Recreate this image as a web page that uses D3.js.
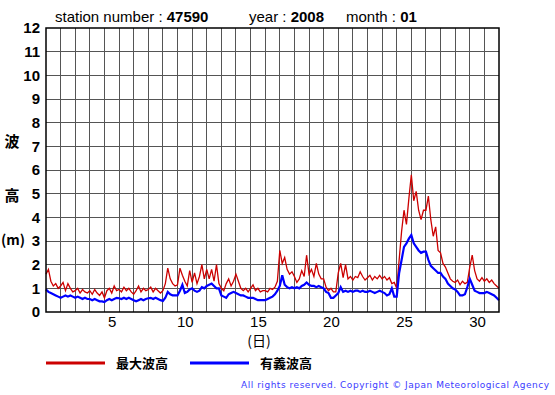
<!DOCTYPE html>
<html>
<head>
<meta charset="utf-8">
<script src="https://cdn.jsdelivr.net/npm/d3@7"></script>
<style>
  body { margin: 0; background: #fff; }
  svg { display: block; }
</style>
</head>
<body>
<svg id="chart"></svg>
<script>
// Data: 6 samples per day (every 4 hours), Jan 1 00:00 .. Feb 1 00:00
const samplesPerDay = 6;

// max wave height (m), one row per day
const maxWave = [
  1.6, 1.8, 1.3, 1.1, 1.2, 1.0,
  1.1, 1.25, 0.9, 1.2, 1.0, 0.85,
  0.9, 1.0, 0.8, 0.95, 0.85, 0.8,
  0.9, 0.75, 0.95, 0.8, 0.7, 0.85,
  0.6, 0.9, 1.0, 0.8, 1.1, 0.9,
  0.95, 0.85, 1.05, 0.9, 1.0, 0.85,
  0.75, 0.9, 1.1, 0.85, 1.0, 0.9,
  0.95, 1.05, 0.85, 1.0, 0.9, 0.8,
  0.9, 1.2, 1.85, 1.4, 1.2, 1.1,
  1.15, 1.85, 1.55, 1.3, 1.1, 1.75,
  1.25, 1.65, 1.2, 1.5, 2.0, 1.4,
  1.8, 1.4, 1.8, 1.3, 2.0, 1.2,
  1.0, 0.9, 1.2, 1.4, 1.1, 1.3,
  1.6, 1.3, 1.0, 0.9, 1.0, 0.85,
  1.0, 1.15, 0.9, 1.0, 0.85, 0.9,
  0.9, 0.85, 1.0, 0.95, 1.05, 1.3,
  2.6, 2.05, 2.3, 1.8, 1.6, 1.7,
  1.5, 1.25, 1.4, 1.75, 1.5, 2.4,
  1.6, 1.8, 1.5, 2.05, 1.6, 1.4,
  1.4, 1.05, 0.9, 1.0, 0.85, 0.85,
  1.65, 2.05, 1.45, 2.0, 1.4, 1.5,
  1.35, 1.5, 1.45, 1.7, 1.5, 1.35,
  1.45, 1.55, 1.35, 1.5, 1.4, 1.55,
  1.4, 1.5, 1.35, 1.45, 1.2, 1.25,
  1.0, 2.2, 3.4, 4.3, 3.7, 4.8,
  5.8, 4.7, 5.1, 4.3, 3.9, 4.3,
  4.3, 4.9, 3.9, 3.2, 3.6, 2.6,
  2.5, 2.05, 1.9, 1.65, 1.4, 1.3,
  1.25, 1.35, 1.15, 1.3, 1.2, 1.25,
  1.9, 2.4, 1.75, 1.4, 1.3, 1.45,
  1.3, 1.4, 1.25, 1.35, 1.2, 1.1,
  1.0
];

// significant wave height (m)
const sigWave = [
  0.95, 0.85, 0.8, 0.75, 0.7, 0.65,
  0.6, 0.65, 0.7, 0.65, 0.7, 0.65,
  0.6, 0.65, 0.6, 0.55, 0.6, 0.55,
  0.55, 0.5, 0.55, 0.5, 0.45, 0.45,
  0.42, 0.5, 0.55, 0.5, 0.55, 0.6,
  0.58, 0.55, 0.6, 0.55, 0.6, 0.55,
  0.5, 0.45, 0.5, 0.55, 0.5, 0.55,
  0.58, 0.6, 0.55, 0.6, 0.55, 0.5,
  0.47, 0.6, 0.85, 0.75, 0.7, 0.7,
  0.7, 0.9, 1.15, 0.8, 0.85, 0.95,
  1.0, 0.9, 0.85, 0.9, 1.05, 1.0,
  1.1, 1.15, 1.2, 1.1, 1.0, 1.0,
  0.7, 0.65, 0.6, 0.75, 0.8, 0.85,
  0.8, 0.75, 0.7, 0.7, 0.65, 0.6,
  0.6, 0.6, 0.55, 0.5, 0.5, 0.5,
  0.5, 0.55, 0.6, 0.65, 0.75, 0.9,
  1.1, 1.55, 1.15, 1.05, 1.0, 1.05,
  1.0, 1.05, 1.0, 1.1, 1.15, 1.25,
  1.15, 1.1, 1.1, 1.05, 1.1, 1.05,
  1.0, 0.85, 0.8, 0.6, 0.6, 0.7,
  0.8, 1.05, 0.85, 0.9, 0.85, 0.9,
  0.85, 0.9, 0.9, 0.85, 0.9, 0.85,
  0.85, 0.9, 0.85, 0.8, 0.85, 0.9,
  0.85, 0.8, 0.7, 0.75, 1.0, 0.65,
  0.65, 1.65, 2.2, 2.75, 2.9, 3.1,
  3.25, 2.9, 2.75, 2.6, 2.5, 2.55,
  2.55, 2.2, 1.95, 1.85, 1.75, 1.65,
  1.65, 1.5, 1.4, 1.2, 1.1, 1.0,
  0.95, 0.85, 0.7, 0.7, 0.75, 1.05,
  1.4, 1.15, 0.9, 0.85, 0.8, 0.8,
  0.8, 0.85, 0.8, 0.75, 0.7, 0.6,
  0.5
];

const dayLabels = [5, 10, 15, 20, 25, 30];
const yTicks = [0, 1, 2, 3, 4, 5, 6, 7, 8, 9, 10, 11, 12];
const legendItems = [
  { name: "最大波高", color: "#cc0000" },
  { name: "有義波高", color: "#0000ff" }
];

const svgWidth = 555, svgHeight = 395;
const plotLeft = 46, plotRight = 499, plotTop = 28, plotBottom = 312;

const svg = d3.select("#chart")
  .attr("width", svgWidth)
  .attr("height", svgHeight)
  .style("font-family", "'Liberation Sans', Arial, sans-serif");

const x = d3.scaleLinear().domain([0, 31]).range([plotLeft, plotRight]);
const y = d3.scaleLinear().domain([0, 12]).range([plotBottom, plotTop]);

// grid: one vertical line per day, one horizontal per metre
svg.append("g")
  .selectAll("line")
  .data(d3.range(1, 31))
  .join("line")
  .attr("x1", d => x(d)).attr("x2", d => x(d))
  .attr("y1", plotTop).attr("y2", plotBottom)
  .attr("stroke", "#555").attr("stroke-width", 1)
  .attr("shape-rendering", "crispEdges");

svg.append("g")
  .selectAll("line")
  .data(yTicks.slice(1, -1))
  .join("line")
  .attr("x1", plotLeft).attr("x2", plotRight)
  .attr("y1", d => y(d)).attr("y2", d => y(d))
  .attr("stroke", "#555").attr("stroke-width", 1)
  .attr("shape-rendering", "crispEdges");

// lines
const line = d3.line()
  .x((d, i) => x(i / samplesPerDay))
  .y(d => y(d));

svg.append("path")
  .datum(maxWave)
  .attr("fill", "none")
  .attr("stroke", legendItems[0].color)
  .attr("stroke-width", 1.3)
  .attr("d", line);

svg.append("path")
  .datum(sigWave)
  .attr("fill", "none")
  .attr("stroke", legendItems[1].color)
  .attr("stroke-width", 2.2)
  .attr("d", line);

// frame
svg.append("rect")
  .attr("x", plotLeft).attr("y", plotTop)
  .attr("width", plotRight - plotLeft).attr("height", plotBottom - plotTop)
  .attr("fill", "none").attr("stroke", "#000").attr("stroke-width", 1.5);

// y axis labels
const yAxis = svg.append("g")
  .attr("transform", `translate(${plotLeft - 4},0)`)
  .call(d3.axisLeft(y).tickValues(yTicks).tickSize(0).tickPadding(2));
yAxis.select(".domain").remove();
yAxis.selectAll("text")
  .style("font-size", "15px")
  .style("font-weight", "bold")
  .attr("fill", "#000");

// x axis labels, centered in the middle of each day
const xAxis = svg.append("g")
  .attr("transform", `translate(0,${plotBottom + 2})`)
  .call(d3.axisBottom(x)
    .tickValues(dayLabels.map(d => d - 0.5))
    .tickFormat(d => d + 0.5)
    .tickSize(0).tickPadding(2));
xAxis.select(".domain").remove();
xAxis.selectAll("text")
  .style("font-size", "15px")
  .attr("fill", "#000");

// title
const title = svg.append("text")
  .attr("x", 55).attr("y", 22)
  .style("font-size", "15px");
title.append("tspan").text("station number : ");
title.append("tspan").style("font-weight", "bold").text("47590");
title.append("tspan").attr("x", 249).text("year : ");
title.append("tspan").style("font-weight", "bold").text("2008");
title.append("tspan").attr("x", 346).text("month : ");
title.append("tspan").style("font-weight", "bold").text("01");

// y axis title
const cjk = "'Noto Sans CJK JP', sans-serif";
svg.append("text").attr("x", 12).attr("y", 147)
  .attr("text-anchor", "middle")
  .style("font-family", cjk).style("font-size", "15px").style("font-weight", "bold")
  .text("波");
svg.append("text").attr("x", 12).attr("y", 201)
  .attr("text-anchor", "middle")
  .style("font-family", cjk).style("font-size", "15px").style("font-weight", "bold")
  .text("高");
svg.append("text").attr("x", 13).attr("y", 245)
  .attr("text-anchor", "middle")
  .style("font-family", cjk).style("font-size", "14px").style("font-weight", "bold")
  .text("(m)");

// x axis title
svg.append("text").attr("x", 259).attr("y", 346)
  .attr("text-anchor", "middle")
  .style("font-family", cjk).style("font-size", "14px")
  .text("(日)");

// legend
const legend = svg.append("g");
const legendX = [46, 190];
legendItems.forEach((item, i) => {
  const g = legend.append("g").attr("transform", `translate(${legendX[i]},363)`);
  g.append("line")
    .attr("x1", 0).attr("x2", 59)
    .attr("stroke", item.color).attr("stroke-width", 3);
  g.append("text")
    .attr("x", 70).attr("y", 5)
    .style("font-family", cjk).style("font-size", "13px").style("font-weight", "bold")
    .text(item.name);
});

// copyright
svg.append("text")
  .attr("x", 241).attr("y", 388)
  .attr("textLength", 308)
  .style("font-family", "'DejaVu Sans', sans-serif")
  .style("font-size", "9px")
  .attr("fill", "#3a3aff")
  .text("All rights reserved. Copyright © Japan Meteorological Agency");
</script>
</body>
</html>
